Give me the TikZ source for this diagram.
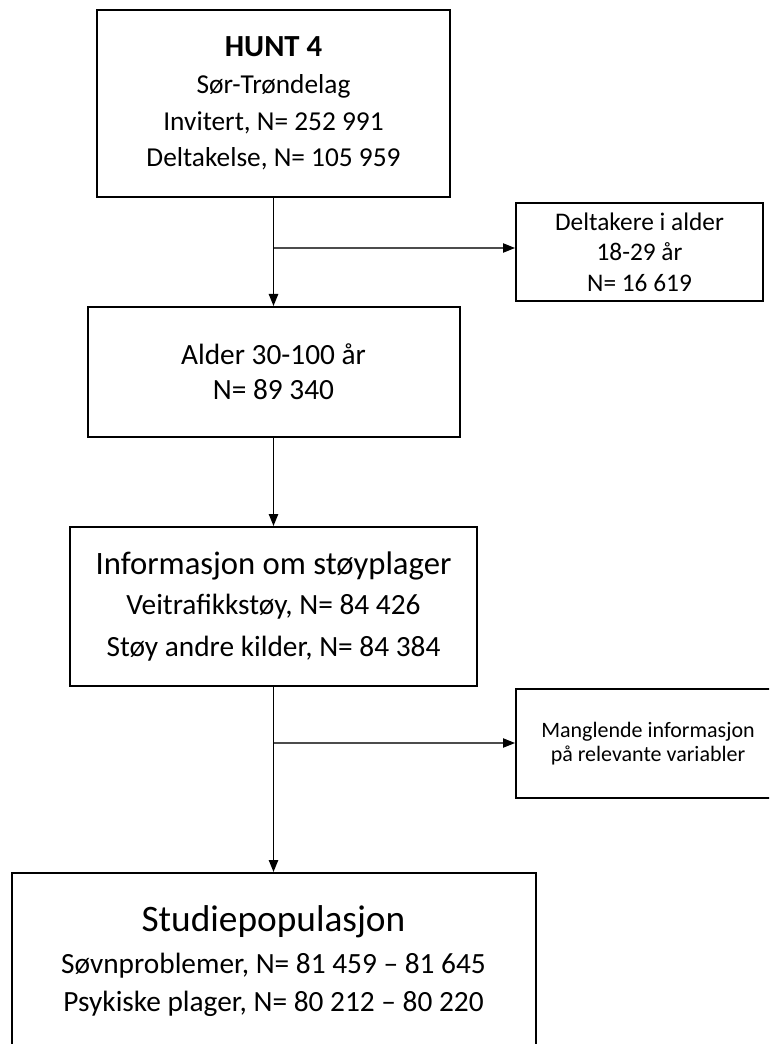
\documentclass[tikz,border=0pt]{standalone}
\usepackage{fontspec}
\setmainfont{Carlito}
\usetikzlibrary{arrows.meta,positioning}

\tikzset{
  boks/.style={draw, line width=1.5pt, rectangle, align=center, inner sep=0pt},
  pil/.style={line width=1.1pt, -{Triangle[length=9pt,width=7pt]}},
  sidepil/.style={line width=0.8pt, draw=black!70, -{Triangle[length=9pt,width=7pt,color=black]}}
}

\begin{document}
\begin{tikzpicture}[x=0.75pt,y=-0.75pt]
		\clip (0,0) rectangle (769,1044);
		\fill[white] (0,0) rectangle (769,1044);
		
		% hovedboksene
		\node[boks, minimum width=264.75pt, minimum height=140.25pt,
		font=\fontsize{20.5pt}{27.5pt}\selectfont] (hunt) at (273.5,103.5)
		{{\fontsize{23pt}{27.5pt}\selectfont\bfseries HUNT 4}\\Sør-Trøndelag\\Invitert, N= 252 991\\Deltakelse, N= 105 959};
		
		\node[boks, minimum width=279pt, minimum height=97.5pt,
		font=\fontsize{22pt}{26.5pt}\selectfont] (alder) at (273.5,372)
		{Alder 30-100 år\\N= 89 340};
		
		\node[boks, minimum width=305.25pt, minimum height=119.25pt,
		font=\fontsize{22pt}{29pt}\selectfont] (stoy) at (273.5,606.5)
		{{\fontsize{24.5pt}{29pt}\selectfont Informasjon om støyplager}\\[1pt]Veitrafikkstøy, N= 84 426\\[2pt]Støy andre kilder, N= 84 384};
		
		\node[boks, minimum width=393pt, minimum height=132.75pt,
		font=\fontsize{22pt}{28.5pt}\selectfont] (studie) at (273.5,961.5)
		{{\fontsize{28pt}{33pt}\selectfont Studiepopulasjon}\\[3pt]Søvnproblemer, N= 81 459 – 81 645\\Psykiske plager, N= 80 212 – 80 220};
		
		% ekskluderte
		\node[boks, minimum width=185.25pt, minimum height=73.5pt,
		font=\fontsize{19pt}{23pt}\selectfont] (ung) at (639.5,252)
		{Deltakere i alder\\18-29 år\\N= 16 619};
		
		\node[boks, minimum width=198pt, minimum height=81.75pt,
		font=\fontsize{16.5pt}{18.5pt}\selectfont] (mangler) at (648,743.5)
		{Manglende informasjon\\på relevante variabler};
		
		% piler
		\coordinate (gren1) at (273.5,248);
		\coordinate (gren2) at (273.5,743);
		
		\draw[pil] (hunt.south) -- (alder.north);
		\draw[sidepil] (gren1) -- (gren1 -| ung.west);
		\draw[pil] (alder.south) -- (stoy.north);
		\draw[pil] (stoy.south) -- (studie.north);
		\draw[sidepil] (gren2) -- (gren2 -| mangler.west);
	\end{tikzpicture}
\end{document}
